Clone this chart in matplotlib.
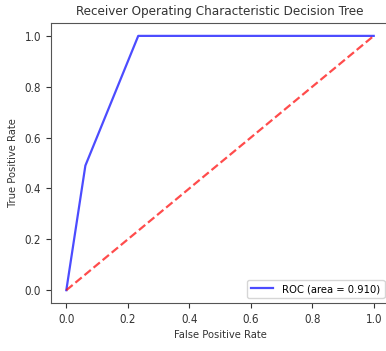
import matplotlib
matplotlib.use("Agg")
import matplotlib.pyplot as plt

fpr = [0.0, 0.062, 0.234, 1.0]
tpr = [0.0, 0.49, 1.0, 1.0]
diag = [0.0, 1.0]
auc_label = "ROC (area = 0.910)"
title = "Receiver Operating Characteristic Decision Tree"

plt.rcParams["font.family"] = ["DejaVu Sans"]
plt.rcParams["font.stretch"] = "condensed"

fig = plt.figure(figsize=(3.86, 3.51), dpi=100)
ax = fig.add_axes([0.132, 0.137, 0.876, 0.797])
ax.plot(fpr, tpr, color="blue", alpha=0.7, lw=1.6, label=auc_label)
ax.plot(diag, diag, color="red", alpha=0.7, lw=1.6, linestyle="--")
ax.set_xlim(-0.05, 1.05)
ax.set_ylim(-0.05, 1.05)
ax.set_xticks([0, 0.2, 0.4, 0.6, 0.8, 1.0])
ax.set_yticks([0, 0.2, 0.4, 0.6, 0.8, 1.0])
ax.tick_params(labelsize=8.3, colors="#333333")
ax.set_xlabel("False Positive Rate", fontsize=8, color="#333333", labelpad=3)
ax.set_ylabel("True Positive Rate", fontsize=8, color="#333333", labelpad=5)
ax.set_title(title, fontsize=9.6, color="#333333")
for s in ax.spines.values():
    s.set_color("#555555")
ax.legend(loc="lower right", fontsize=8, borderaxespad=0.4)
fig.savefig("out.png", dpi=100)
